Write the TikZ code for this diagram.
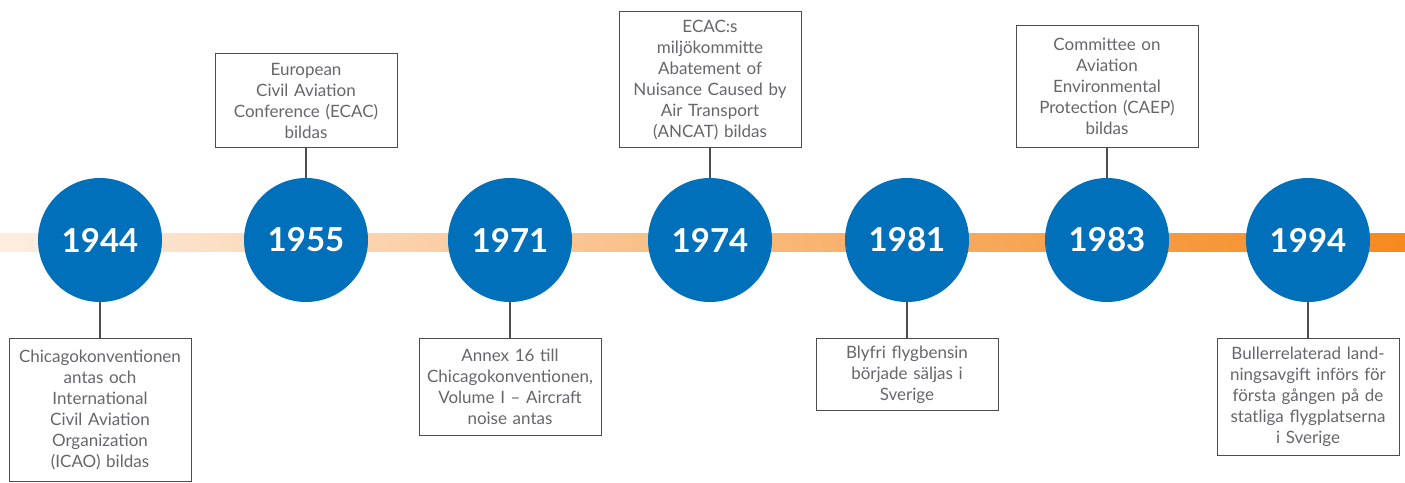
\documentclass[tikz,border=0pt]{standalone}
\usepackage{fontspec}
\setmainfont{Lato}
\usepackage{xcolor}
\usetikzlibrary{positioning}
\definecolor{yearblue}{HTML}{0070BA}
\definecolor{boxgray}{HTML}{4D4D4F}
\definecolor{textgray}{HTML}{66676A}
\definecolor{lineorange}{HTML}{F58A1F}
\definecolor{linepale}{HTML}{FDEEE2}

\begin{document}
\begin{tikzpicture}[x=1pt, y=-1pt,
	year/.style={circle, fill=yearblue, minimum size=124pt, inner sep=0pt, text=white, font=\fontsize{33}{36}\selectfont\bfseries},
	event/.style={draw=boxgray, line width=0.8pt, fill=white, text=textgray, align=center, text width=172pt, minimum width=182pt, inner xsep=5pt, inner ysep=0pt, font=\fontsize{17}{21}\selectfont},
	conn/.style={draw=boxgray, line width=1.5pt}]
			\useasboundingbox (0, 0) rectangle (1405, 482);
			\shade[left color=linepale, right color=lineorange] (0, 233) rectangle (1405, 251);
			\draw
			node[year] (y1944) at (100, 240){1944}
			node[year] (y1955) at (306, 240){1955}
			node[year] (y1971) at (510, 240){1971}
			node[year] (y1974) at (710, 240){1974}
			node[year] (y1981) at (907, 240){1981}
			node[year] (y1983) at (1107, 240){1983}
			node[year] (y1994) at (1308, 240){1994};
			\draw
			node[event, anchor=north, minimum height=143pt] (e1944) at (100, 338){Chicagokonventionen\\antas och\\International\\Civil Aviation\\Organization\\(ICAO) bildas}
			node[event, anchor=south, minimum height=94pt] (e1955) at (306, 148){European\\Civil Aviation\\Conference (ECAC)\\bildas}
			node[event, anchor=north, minimum height=97pt] (e1971) at (510, 338){Annex 16 till\\Chicagokonventionen,\\Volume I – Aircraft\\noise antas}
			node[event, anchor=south, minimum height=136pt] (e1974) at (710, 148){ECAC:s\\miljökommitte\\Abatement of\\Nuisance Caused by\\Air Transport\\(ANCAT) bildas}
			node[event, anchor=north, minimum height=72pt] (e1981) at (907, 338){Blyfri flygbensin\\började säljas i\\Sverige}
			node[event, anchor=south, minimum height=122pt] (e1983) at (1107, 148){Committee on\\Aviation\\Environmental\\Protection (CAEP)\\bildas}
			node[event, anchor=north, minimum height=117pt] (e1994) at (1308, 338){Bullerrelaterad land-\\ningsavgift införs för\\första gången på de\\statliga flygplatserna\\i Sverige};
			\draw [conn] (y1944) -- (e1944);
			\draw [conn] (y1955) -- (e1955);
			\draw [conn] (y1971) -- (e1971);
			\draw [conn] (y1974) -- (e1974);
			\draw [conn] (y1981) -- (e1981);
			\draw [conn] (y1983) -- (e1983);
			\draw [conn] (y1994) -- (e1994);
		\end{tikzpicture}
\end{document}
